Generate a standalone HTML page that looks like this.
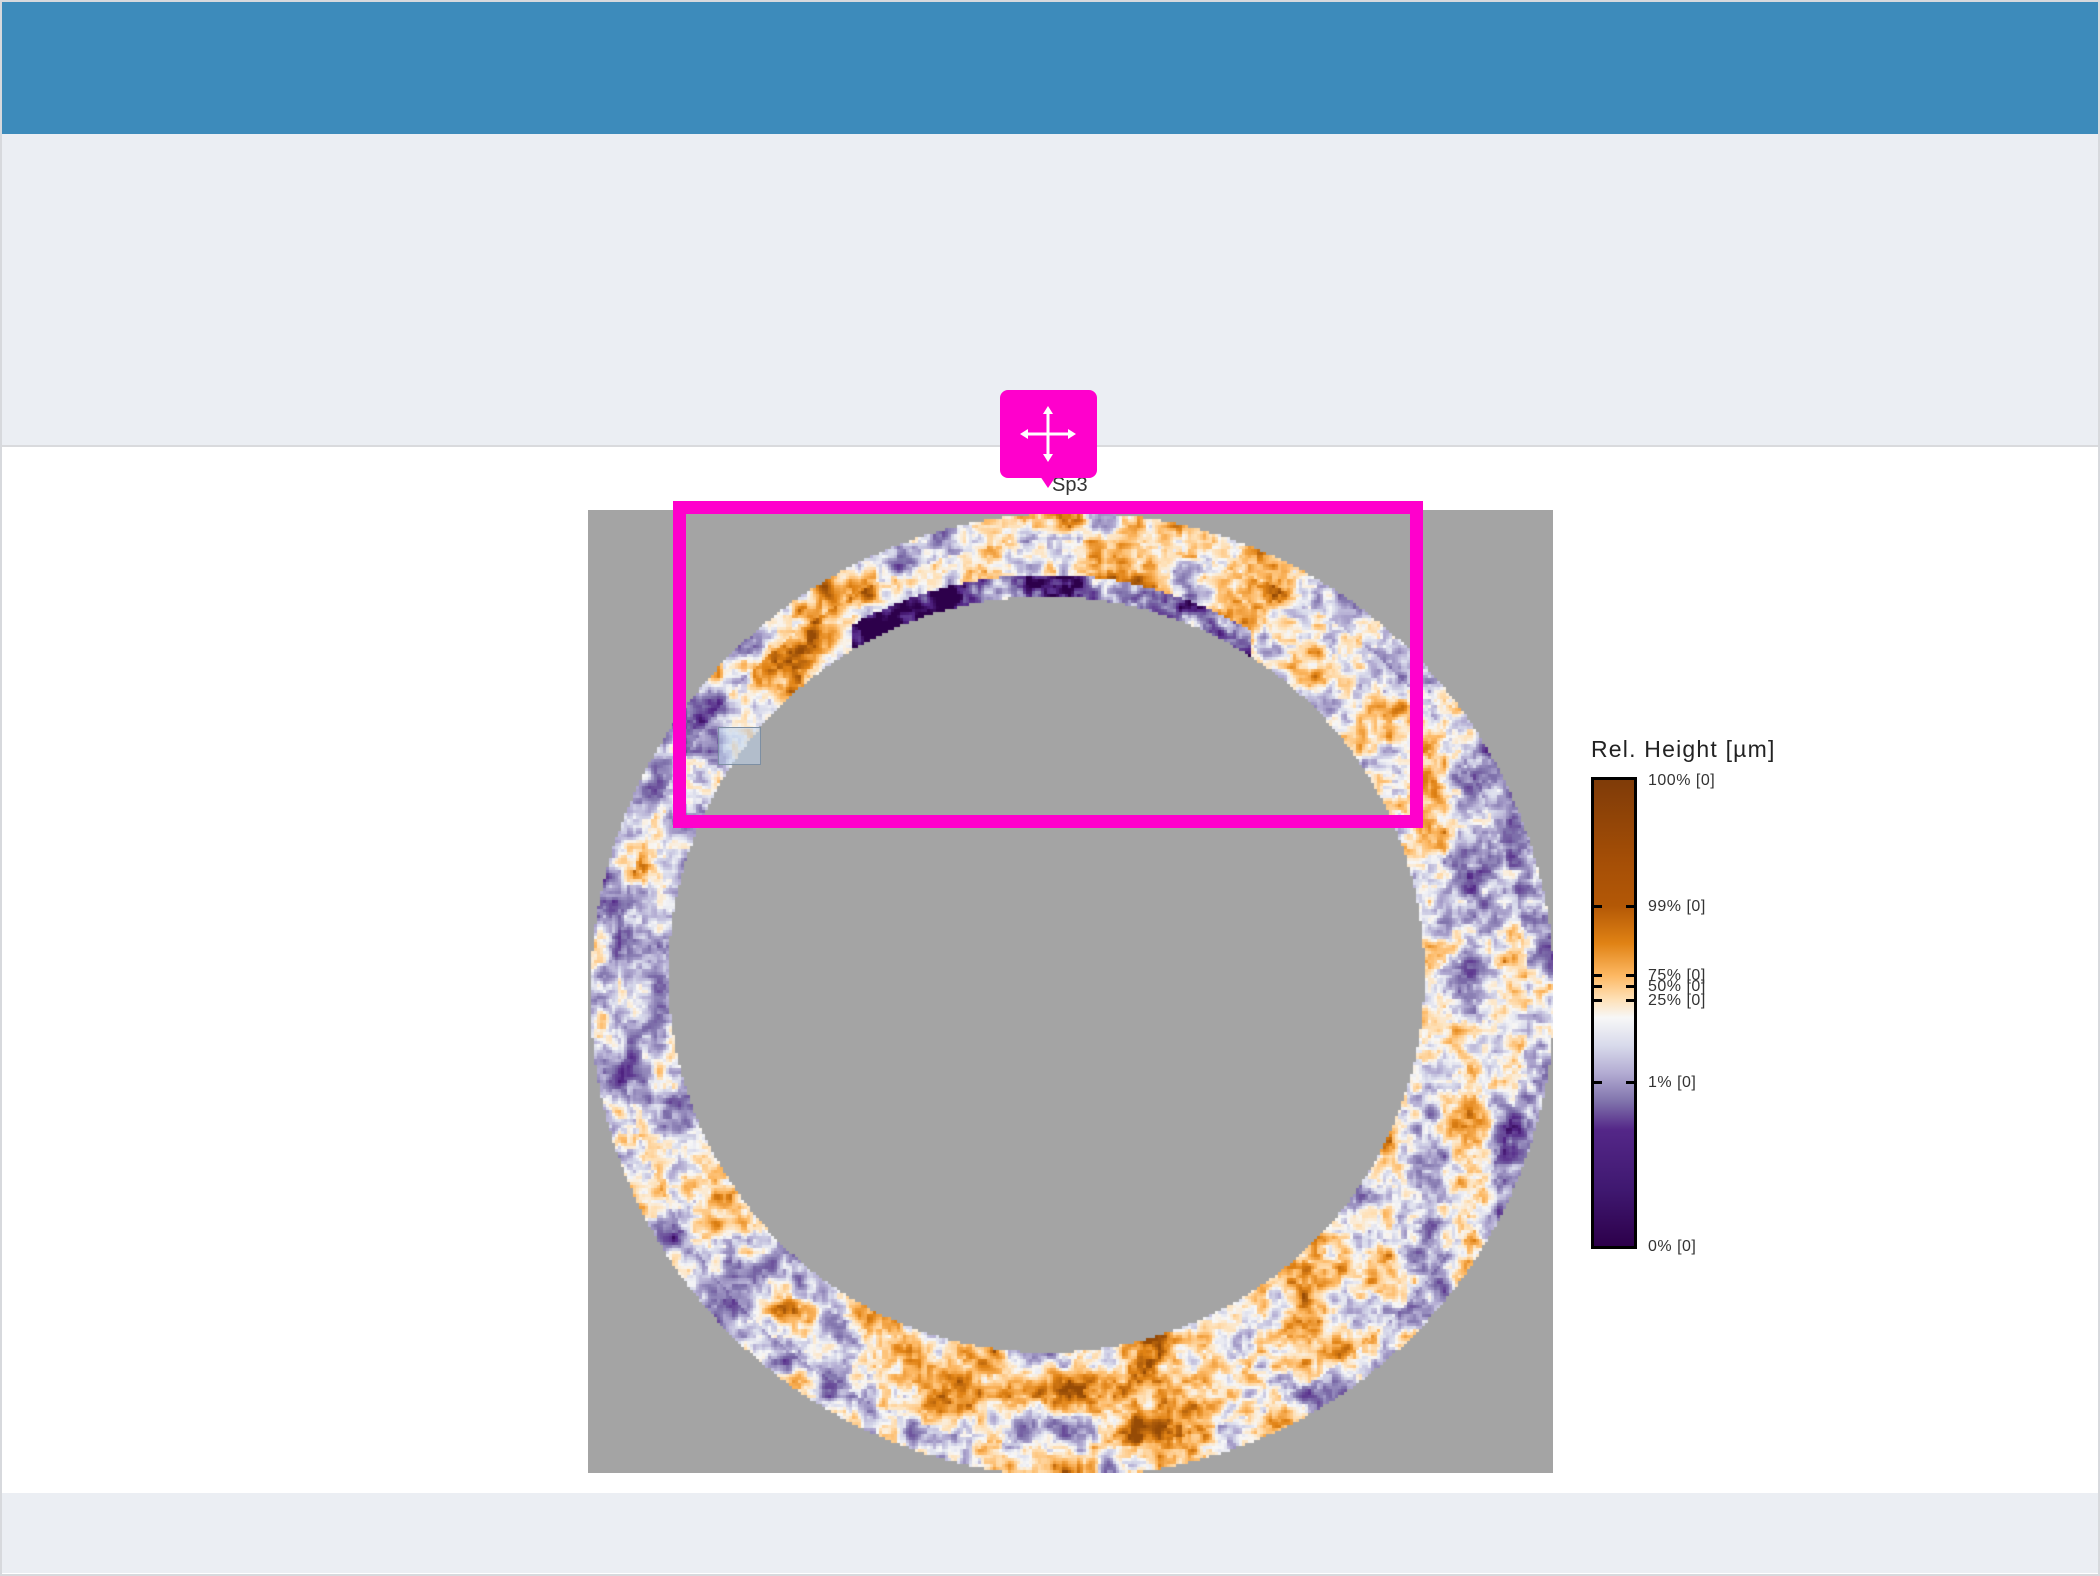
<!DOCTYPE html>
<html><head><meta charset="utf-8">
<style>
html,body{margin:0;padding:0;width:2100px;height:1576px;overflow:hidden;background:#fff;font-family:"Liberation Sans",sans-serif}
.frame{position:absolute;left:0;top:0;width:2096px;height:1572px;border:2px solid #d7d9dd}
#hdr{position:absolute;left:2px;top:2px;width:2096px;height:132px;background:#3d8bbb}
#band{position:absolute;left:2px;top:134px;width:2096px;height:311px;background:#ebeef3;border-bottom:2px solid #d9dadd}
#foot{position:absolute;left:2px;top:1493px;width:2096px;height:80px;background:#ebeef3}
#map{position:absolute;left:588px;top:510px}
#sel{position:absolute;left:673px;top:501px;width:724px;height:301px;border:13px solid #ff00cc}
#handle{position:absolute;left:1000px;top:390px;width:97px;height:88px;background:#ff00cc;border-radius:8px}
#ptr{position:absolute;left:1036px;top:470px;width:0;height:0;border-left:12px solid transparent;border-right:12px solid transparent;border-top:18px solid #ff00cc}
#sq{position:absolute;left:718px;top:727px;width:41px;height:36px;background:rgba(190,210,235,.55);border:1px solid #7d8fa3}
.lt{position:absolute;font-size:16px;color:#333;letter-spacing:0.5px}
</style></head><body>
<div class="frame"></div>
<div id="hdr"></div>
<div id="band"></div>
<div id="foot"></div>
<canvas id="map" width="965" height="963"></canvas>
<div id="sq"></div>
<div id="sel"></div>
<div style="position:absolute;left:1052px;top:474px;font-size:20px;color:#333">Sp3</div>
<div id="ptr"></div>
<div id="handle">
<svg width="97" height="88" viewBox="0 0 97 88"><g stroke="#fff" stroke-width="3" fill="#fff"><line x1="48" y1="22" x2="48" y2="66"/><line x1="26" y1="44" x2="70" y2="44"/><polygon points="48,16 43,24 53,24" stroke="none"/><polygon points="48,72 43,64 53,64" stroke="none"/><polygon points="20,44 28,39 28,49" stroke="none"/><polygon points="76,44 68,39 68,49" stroke="none"/></g></svg>
</div>
<div style="position:absolute;left:1591px;top:736px;font-size:23px;color:#222;letter-spacing:1.2px">Rel. Height [µm]</div>
<div id="cbar" style="position:absolute;left:1591px;top:777px;width:40px;height:466px;border:3px solid #000;background:linear-gradient(to bottom,#7f3b08 0%,#a64f06 18%,#b35806 27%,#e08214 35%,#fdb863 42%,#fee0b6 47%,#f7f7f7 51%,#d8daeb 57%,#b2abd2 63%,#8073ac 69%,#542788 75%,#3f1870 88%,#2d004b 100%)"></div>
<div id="ticks"></div>
<script>
const tickLabels=["100% [0]","99% [0]","75% [0]","50% [0]","25% [0]","1% [0]","0% [0]"];
const tickFrac=[0,0.27,0.418,0.443,0.473,0.647,1];
const barTop=780,barH=466;
const tk=document.getElementById('ticks');
tickLabels.forEach((t,i)=>{
  const y=barTop+tickFrac[i]*barH;
  const d=document.createElement('div');
  d.className='lt';d.style.left='1648px';d.style.top=(y-8)+'px';d.textContent=t;
  
  
  tk.appendChild(d);
  if(i>0&&i<6){for(const x of [1594,1626]){const m=document.createElement('div');
    m.style.cssText='position:absolute;left:'+x+'px;top:'+(y-1)+'px;width:8px;height:3px;background:#000';
    
    
    tk.appendChild(m);}}
});
const cv=document.getElementById('map'),cx=cv.getContext('2d');
cx.fillStyle='#a4a4a4';cx.fillRect(0,0,965,963);
function h(x,y,s){let n=(x*374761393+y*668265263+s*982451653)|0;n=(n^(n>>>13))*1274126177|0;return ((n^(n>>>16))>>>0)/4294967295;}
function vn(x,y,sc,s){const fx=x/sc,fy=y/sc,ix=Math.floor(fx),iy=Math.floor(fy);let tx=fx-ix,ty=fy-iy;tx=tx*tx*(3-2*tx);ty=ty*ty*(3-2*ty);
 const a=h(ix,iy,s),b=h(ix+1,iy,s),c=h(ix,iy+1,s),d=h(ix+1,iy+1,s);return a+(b-a)*tx+(c-a)*ty+(a-b-c+d)*tx*ty;}
const stops=[[0,[45,0,75]],[0.12,[84,39,136]],[0.3,[128,115,172]],[0.42,[178,171,210]],[0.5,[216,218,235]],[0.56,[247,247,247]],[0.64,[254,224,182]],[0.74,[253,184,99]],[0.86,[224,130,20]],[1,[150,75,6]]];
function col(v){v=Math.max(0,Math.min(1,v));for(let i=1;i<stops.length;i++){if(v<=stops[i][0]){const [p0,c0]=stops[i-1],[p1,c1]=stops[i];const t=(v-p0)/(p1-p0);return c0.map((c,k)=>Math.round(c+(c1[k]-c)*t));}}return stops[stops.length-1][1];}
const S=3;
for(let y=0;y<963;y+=S)for(let x=0;x<965;x+=S){
 const dx=x-483,dy=y-483,ro=Math.sqrt(dx*dx+dy*dy);if(ro>482)continue;
 const ix=x-457,iy=y-463,ri=Math.sqrt(ix*ix+iy*iy);if(ri<378)continue;
 const ang=Math.atan2(dy,dx);
 let v=0.5*vn(x,y,40,1)+0.3*vn(x,y,14,2)+0.2*vn(x,y,5,3);
 v=(v-0.5)*1.15+0.58;
 v-=0.08*Math.cos(2*ang);
 if(ro>455)v-=0.1;
 if(dy<-330&&ri<400&&Math.abs(dx+20)<200)v-=0.45*(0.6+0.8*vn(x,y,8,4));
 const c=col(v);cx.fillStyle='rgb('+c[0]+','+c[1]+','+c[2]+')';cx.fillRect(x,y,S,S);
}
</script>
</body></html>
